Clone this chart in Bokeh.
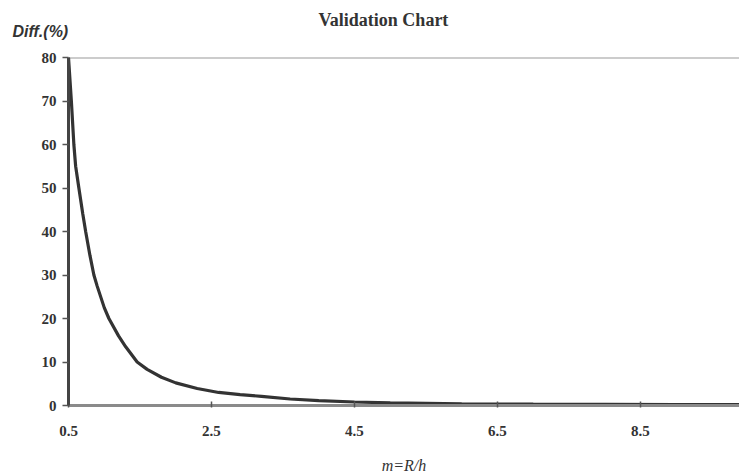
from bokeh.plotting import figure
from bokeh.models import Title, Range1d, FixedTicker
from bokeh.embed import file_html
from bokeh.resources import INLINE

# m = R/h ratio and the percentage difference
m_ratio = [0.5, 0.54, 0.575, 0.6, 0.645, 0.7, 0.74, 0.8, 0.855, 0.9, 1.0,
           1.065, 1.2, 1.3, 1.46, 1.6, 1.8, 2.0, 2.3, 2.6, 2.9, 3.2, 3.6, 4.0,
           4.5, 5.0, 5.5, 6.0, 7.0, 8.0, 9.0, 10.0]
diff_pct = [80, 70, 60, 55, 50, 44, 40, 34.5, 30, 27.5, 22.5, 20, 16, 13.5,
            10, 8.3, 6.5, 5.2, 3.9, 3.0, 2.5, 2.1, 1.5, 1.1, 0.8, 0.6, 0.5,
            0.4, 0.3, 0.25, 0.2, 0.18]
x_ticks = [0.5, 2.5, 4.5, 6.5, 8.5]
y_ticks = [0, 10, 20, 30, 40, 50, 60, 70, 80]

W, H = 739, 476
LEFT, TOP, BOTTOM = 68, 57, 71
X_END = 9.885

serif = "Liberation Serif"

p = figure(width=W, height=H, output_backend="svg", toolbar_location=None,
           x_range=Range1d(0.5, X_END), y_range=Range1d(0, 80),
           min_border_left=LEFT, min_border_right=0, min_border_top=TOP,
           min_border_bottom=BOTTOM)
p.outline_line_color = None
p.grid.visible = False
p.background_fill_color = "white"
p.border_fill_color = "white"

# quantity name at top left; the heading is pulled back down near its row
p.add_layout(Title(text="Diff.(%)", align="left", offset=12 - LEFT,
                   text_font="Liberation Sans", text_font_style="bold italic",
                   text_font_size="16px", text_color="#333333", standoff=36),
             "above")
p.title.text = "Validation Chart"
p.title.align = "left"
p.title.offset = 318 - LEFT
p.title.text_font = serif
p.title.text_font_style = "bold"
p.title.text_font_size = "18px"
p.title.text_color = "#333333"
p.title.standoff = -54

# top frame edge
p.line([0.5, X_END], [80, 80], line_color="#9a9a9a", line_width=2)

p.line(m_ratio, diff_pct, line_color="#333333", line_width=3.2)

p.xaxis.ticker = FixedTicker(ticks=x_ticks)
p.yaxis.ticker = FixedTicker(ticks=y_ticks)
p.xaxis.minor_tick_line_color = None
p.yaxis.minor_tick_line_color = None

p.xaxis.axis_line_color = "#8a8a8a"
p.xaxis.axis_line_width = 3
p.yaxis.axis_line_color = "#444444"
p.yaxis.axis_line_width = 3
for ax in (p.xaxis[0], p.yaxis[0]):
    ax.major_tick_line_color = "#555555"
    ax.major_tick_line_width = 1.5
    ax.major_label_text_font = serif
    ax.major_label_text_font_style = "bold"
    ax.major_label_text_font_size = "15px"
    ax.major_label_text_color = "#333333"

p.xaxis.major_tick_in = 4
p.xaxis.major_tick_out = 2
p.yaxis.major_tick_in = 0
p.yaxis.major_tick_out = 6

p.xaxis.major_label_standoff = 18
p.yaxis.major_label_standoff = 6
p.xaxis.axis_label = "m=R/h"
p.xaxis.axis_label_text_font = serif
p.xaxis.axis_label_text_font_style = "italic"
p.xaxis.axis_label_text_font_size = "16px"
p.xaxis.axis_label_text_color = "#333333"
p.xaxis.axis_label_standoff = 18

open("out.html", "w").write(file_html(p, INLINE))
